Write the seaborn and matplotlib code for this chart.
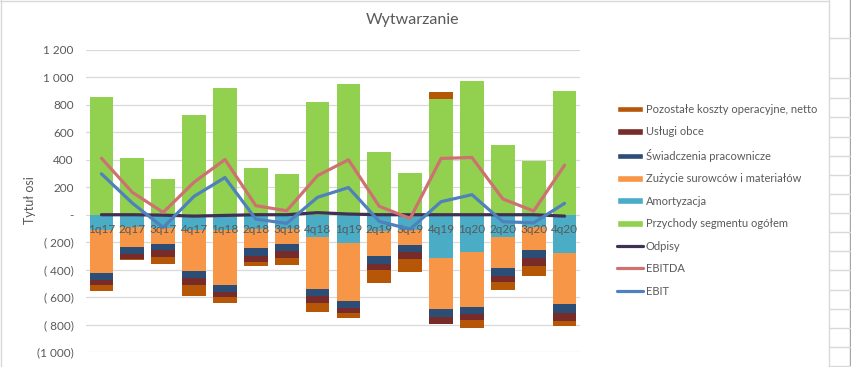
"""
Wytwarzanie - stacked costs vs revenue per quarter, with EBITDA / EBIT lines.
"""

import matplotlib
matplotlib.use("Agg")

import numpy as np
import matplotlib.pyplot as plt
import seaborn as sns
from matplotlib.lines import Line2D
from matplotlib.patches import Patch
from matplotlib.ticker import FuncFormatter, MultipleLocator


QUARTERS = ["1q17", "2q17", "3q17", "4q17", "1q18", "2q18", "3q18", "4q18",
            "1q19", "2q19", "3q19", "4q19", "1q20", "2q20", "3q20", "4q20"]

PRZYCHODY = [856, 410, 263, 724, 922, 344, 300, 820,
             951, 454, 307, 844, 973, 505, 395, 900]
AMORTYZACJA = [-110, -93, -98, -110, -110, -105, -105, -159,
               -203, -117, -110, -315, -271, -159, -88, -276]
ZUZYCIE = [-315, -141, -114, -300, -402, -137, -107, -383,
           -427, -183, -110, -373, -402, -229, -168, -375]
SWIADCZENIA = [-53, -54, -47, -51, -54, -58, -52, -53,
               -51, -59, -51, -56, -52, -59, -59, -64]
USLUGI = [-34, -32, -48, -51, -34, -44, -51, -49,
          -34, -44, -51, -54, -44, -44, -58, -61]
POZOSTALE = [-44, -9, -52, -78, -44, -29, -51, -66,
             -39, -95, -95, 49, -56, -58, -71, -36]
ODPISY = [0, 0, -3, -10, -5, 0, 0, 15, 5, 0, 0, 0, 0, 0, 0, -10]
EBITDA = [412, 163, 17, 237, 402, 66, 29, 285,
          400, 61, -27, 410, 417, 115, 27, 361]
EBIT = [298, 85, -93, 134, 271, -32, -63, 127,
        198, -49, -105, 95, 146, -51, -59, 83]

COLORS = {
    "Pozostałe koszty operacyjne, netto": "#B65708",
    "Usługi obce": "#772C2A",
    "Świadczenia pracownicze": "#2C4D75",
    "Zużycie surowców i materiałów": "#F79646",
    "Amortyzacja": "#4BACC6",
    "Przychody segmentu ogółem": "#92D050",
    "Odpisy": "#403152",
    "EBITDA": "#CD7270",
    "EBIT": "#4F81BD",
}
TEXT = "#595959"
GRID = "#D9D9D9"
W, H = 851, 367

sns.set_theme(style="white")
plt.rcParams["font.family"] = ["Lato", "DejaVu Sans"]


def fmt(v, _pos):
    if abs(v) < 0.5:
        return "-"
    s = f"{abs(v):,.0f}".replace(",", " ")
    if v < 0:
        return f"({s})" if abs(v) >= 1000 else f"( {s})"
    return s


fig = plt.figure(figsize=(W / 100, H / 100), dpi=100)
ax = fig.add_axes([86 / W, 15 / H, 494 / W, 302 / H])

# stacked bars drawn as overlaid cumulative sums
pos_poz = np.maximum(np.array(POZOSTALE), 0)
neg_poz = np.minimum(np.array(POZOSTALE), 0)
prz = np.array(PRZYCHODY)
neg_layers = [np.array(AMORTYZACJA), np.array(ZUZYCIE),
              np.array(SWIADCZENIA), np.array(USLUGI), neg_poz]
neg_names = ["Amortyzacja", "Zużycie surowców i materiałów",
             "Świadczenia pracownicze", "Usługi obce",
             "Pozostałe koszty operacyjne, netto"]
neg_cum = np.cumsum(neg_layers, axis=0)

bar_kw = dict(ax=ax, width=0.77, saturation=1, errorbar=None, linewidth=0)
sns.barplot(x=QUARTERS, y=prz + pos_poz,
            color=COLORS["Pozostałe koszty operacyjne, netto"], **bar_kw)
sns.barplot(x=QUARTERS, y=prz,
            color=COLORS["Przychody segmentu ogółem"], **bar_kw)
for name, heights in reversed(list(zip(neg_names, neg_cum))):
    sns.barplot(x=QUARTERS, y=heights, color=COLORS[name], **bar_kw)

pos = np.arange(len(QUARTERS))
for name, vals in [("Odpisy", ODPISY), ("EBITDA", EBITDA), ("EBIT", EBIT)]:
    sns.lineplot(x=pos, y=vals, ax=ax, color=COLORS[name], linewidth=2.3,
                 sort=False, zorder=4)

ax.set_xlim(-0.5, len(QUARTERS) - 0.5)
ax.set_ylim(-1000, 1200)
ax.yaxis.set_major_locator(MultipleLocator(200))
ax.yaxis.set_major_formatter(FuncFormatter(fmt))
ax.yaxis.grid(True, color=GRID, linewidth=0.9)
ax.set_axisbelow(True)
ax.xaxis.set_zorder(3)  # quarter labels sit on top of the bars
for sp in ax.spines.values():
    sp.set_visible(False)
ax.spines["bottom"].set_position(("data", 0))
ax.tick_params(axis="y", length=0, pad=9, labelsize=8.5, labelcolor=TEXT)
ax.tick_params(axis="x", length=0, pad=7, labelsize=8.5, labelcolor=TEXT)
ax.set_xlabel("")
ax.set_ylabel("")

fig.text(413 / W, 1 - 20 / H, "Wytwarzanie", ha="center", va="center",
         fontsize=11.5, color=TEXT)
fig.text(30 / W, 1 - 200 / H, "Tytuł osi", ha="center", va="center",
         rotation=90, fontsize=9, color=TEXT)

handles = [Patch(facecolor=COLORS[n], label=n) for n in
           ["Pozostałe koszty operacyjne, netto", "Usługi obce",
            "Świadczenia pracownicze", "Zużycie surowców i materiałów",
            "Amortyzacja", "Przychody segmentu ogółem"]]
handles += [Line2D([], [], color=COLORS[n], linewidth=2.3, label=n)
            for n in ["Odpisy", "EBITDA", "EBIT"]]
leg = fig.legend(handles=handles, loc="upper left",
                 bbox_to_anchor=(617 / W, 1 - 104 / H), frameon=False,
                 borderpad=0, borderaxespad=0, labelspacing=1.03,
                 handlelength=2.35, handleheight=0.55, handletextpad=0.25,
                 fontsize=8)
for t in leg.get_texts():
    t.set_color(TEXT)


# chart frame and the bit of spreadsheet grid on the right
def fline(x0, y0, x1, y1, color=GRID, lw=1.0):
    fig.add_artist(Line2D([x0 / W, x1 / W], [1 - y0 / H, 1 - y1 / H],
                          color=color, linewidth=lw,
                          transform=fig.transFigure))


fline(1, 0, 1, H)
fline(0, 0.5, 829, 0.5)
fline(829, 0, 829, H)
fline(850, 0, 850, H, color="#A6A6A6")
for y in [38, 78, 98, 117, 137, 156, 175, 194, 213, 232,
          251, 270, 290, 309, 328, 347, 366]:
    fline(829, y, 850, y)

fig.savefig("out.png", dpi=100)
